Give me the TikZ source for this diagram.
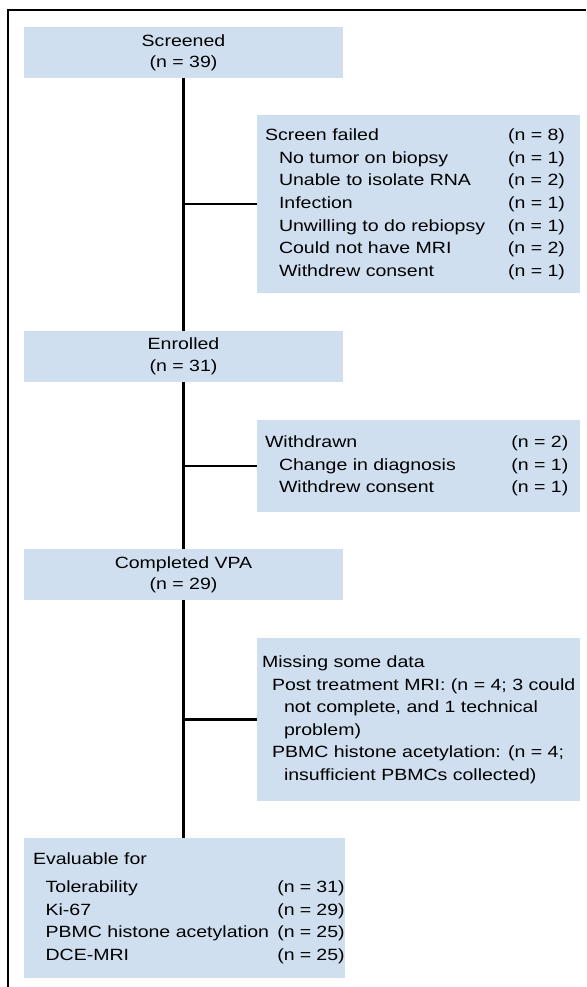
\documentclass[tikz,border=0pt]{standalone}
\usepackage{fontspec}
\setmainfont{Liberation Sans}[FakeStretch=1.2]
\usepackage{array}
\usetikzlibrary{positioning, calc}
\definecolor{boxblue}{RGB}{208,223,240}

\begin{document}
\begin{tikzpicture}[
    x=0.75pt, y=-0.75pt,
    nd/.style={fill=boxblue, inner sep=0pt, font=\fontsize{12.2}{16}\selectfont},
    stage/.style={nd, minimum width=239.25pt, minimum height=38.25pt, align=center},
    side/.style={nd, minimum width=242.25pt, font=\fontsize{12.2}{16.9}\selectfont},
    final/.style={nd, minimum width=240.5pt, minimum height=105pt, font=\fontsize{12.2}{16.9}\selectfont},
    trunk/.style={line width=1.65pt, black},
    panel/.style={line width=0.8pt, black},
]
\useasboundingbox (0,0) rectangle (586,987);

% Frame round the chart
\draw[panel] (586,10) -- (8,10) -- (8,987);

% Main flow
\node[stage] (screened) at (183.5,52.5) {Screened\\(n = 39)};
\node[stage] (enrolled) at (183.5,356.3) {Enrolled\\(n = 31)};
\node[stage] (completed) at (183.5,574.5) {Completed VPA\\(n = 29)};
\node[final] (evaluable) at (184.35,908) {%
\begin{tabular}{@{\hspace{6.75pt}}p{183.3pt}@{}p{50.45pt}@{}}
Evaluable for & \\[4pt]
\hspace*{9.45pt}Tolerability & (n = 31)\\
\hspace*{9.45pt}Ki-67 & (n = 29)\\
\hspace*{9.45pt}PBMC histone acetylation & (n = 25)\\
\hspace*{9.45pt}DCE-MRI & (n = 25)
\end{tabular}};

% Exclusions
\node[side, minimum height=133.5pt] (failed) at (418.5,204) {%
\begin{tabular}{@{\hspace{6pt}}p{182.25pt}@{}p{54pt}@{}}
Screen failed & (n = 8)\\
\hspace*{10.5pt}No tumor on biopsy & (n = 1)\\
\hspace*{10.5pt}Unable to isolate RNA & (n = 2)\\
\hspace*{10.5pt}Infection & (n = 1)\\
\hspace*{10.5pt}Unwilling to do rebiopsy & (n = 1)\\
\hspace*{10.5pt}Could not have MRI & (n = 2)\\
\hspace*{10.5pt}Withdrew consent & (n = 1)
\end{tabular}};
\node[side, minimum height=68.8pt] (withdrawn) at (418.5,465.9) {%
\begin{tabular}{@{\hspace{6pt}}p{184.8pt}@{}p{51.45pt}@{}}
Withdrawn & (n = 2)\\
\hspace*{10.5pt}Change in diagnosis & (n = 1)\\
\hspace*{10.5pt}Withdrew consent & (n = 1)
\end{tabular}};
\node[side, minimum height=122pt] (missing) at (418.5,719.4) {%
\begin{tabular}{@{\hspace{3.75pt}}p{238.5pt}@{}}
Missing some data\\
\hspace*{7.5pt}Post treatment MRI: (n = 4; 3 could\\
\hspace*{16.5pt}not complete, and 1 technical\\
\hspace*{16.5pt}problem)\\
\hspace*{7.5pt}PBMC histone acetylation: (n = 4;\\
\hspace*{16.5pt}insufficient PBMCs collected)
\end{tabular}};

% Connectors
\draw[trunk] (screened.south) -- (enrolled.north);
\draw[trunk] (enrolled.south) -- (completed.north);
\draw[trunk] (completed.south) -- (completed.south |- evaluable.north);
\draw[trunk] (failed.west) -- (failed.west -| screened.south);
\draw[trunk] (withdrawn.west) -- (withdrawn.west -| enrolled.south);
\draw[trunk] (missing.west) -- (missing.west -| completed.south);

\end{tikzpicture}
\end{document}
